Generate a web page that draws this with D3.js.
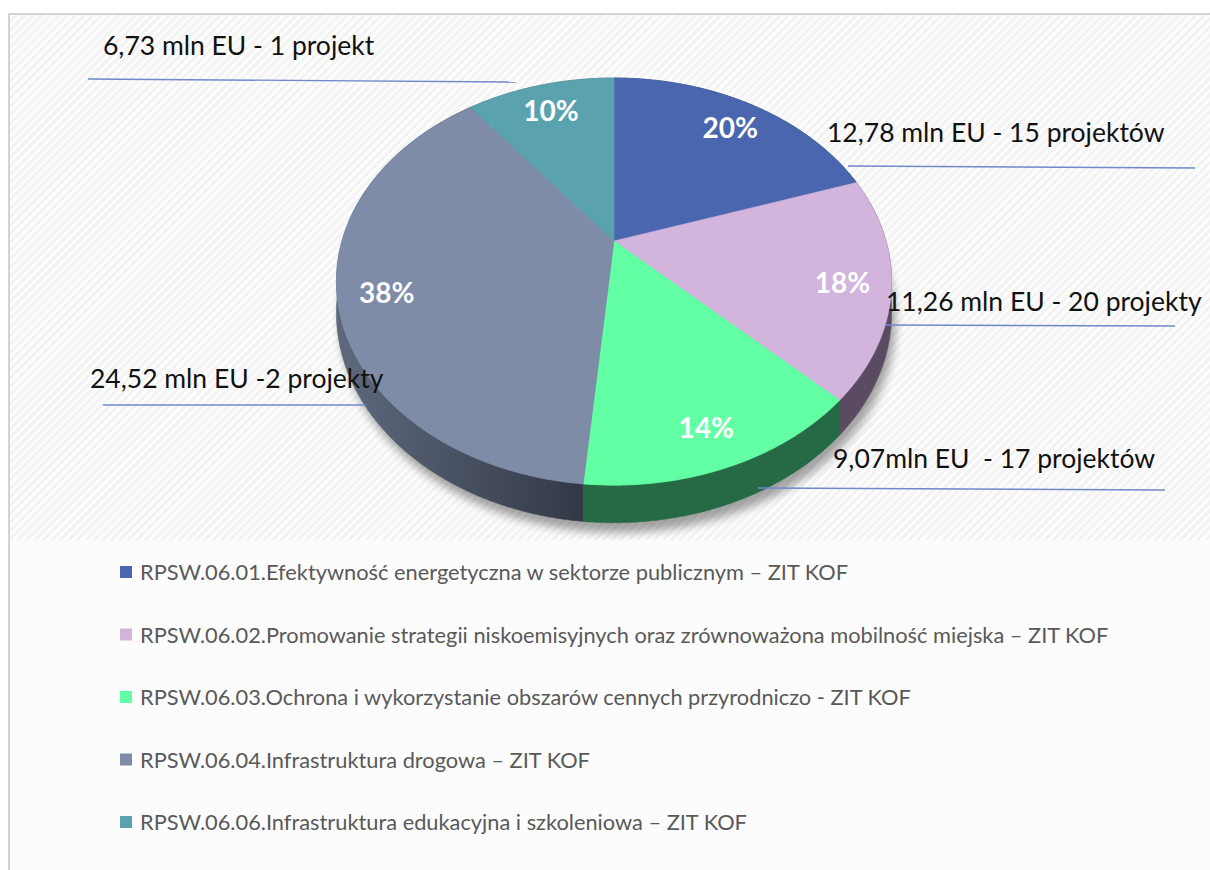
<!DOCTYPE html>
<html>
<head>
<meta charset="utf-8">
<script src="https://cdn.jsdelivr.net/npm/d3@7"></script>
<style>
  body { margin: 0; background: #fff; }
  svg { display: block; }
</style>
</head>
<body>
<div id="chart"></div>
<script>
// data
const categories = [
  "RPSW.06.01.Efektywność energetyczna w sektorze publicznym – ZIT KOF",
  "RPSW.06.02.Promowanie strategii niskoemisyjnych oraz zrównoważona mobilność miejska – ZIT KOF",
  "RPSW.06.03.Ochrona i wykorzystanie obszarów cennych przyrodniczo - ZIT KOF",
  "RPSW.06.04.Infrastruktura drogowa – ZIT KOF",
  "RPSW.06.06.Infrastruktura edukacyjna i szkoleniowa – ZIT KOF"
];
const values = [12.78, 11.26, 9.07, 24.52, 6.73];       // mln EU
const percentLabels = ["20%", "18%", "14%", "38%", "10%"];
const valueLabels = [
  "12,78 mln EU - 15 projektów",
  "11,26 mln EU - 20 projekty",
  "9,07mln EU  - 17 projektów",
  "24,52 mln EU -2 projekty",
  "6,73 mln EU - 1 projekt"
];

// styling
const topColors  = ["#4966ae", "#d2b4dd", "#62ffa5", "#7e8ca8", "#5aa3ae"];
const sideColors = ["#2c3d68", "#5b4b62", "#256945", "url(#graySide)", "#356168"];

// where the value labels + their underline sit
const labelLayout = [
  { x: 827, y: 142, lx1: 848, lx2: 1195, ly1: 166, ly2: 168 },
  { x: 886, y: 311, lx1: 886, lx2: 1175, ly1: 325, ly2: 326 },
  { x: 833, y: 468, lx1: 758, lx2: 1165, ly1: 488, ly2: 490 },
  { x: 90,  y: 388, lx1: 103, lx2: 366,  ly1: 405, ly2: 405 },
  { x: 103, y: 55,  lx1: 88,  lx2: 516,  ly1: 79,  ly2: 82 }
];

const width = 1210,
      height = 870;

const svg = d3.select("#chart").append("svg")
    .attr("width", width)
    .attr("height", height);

const defs = svg.append("defs");

// faint diagonal stripes behind the pie
const pat = defs.append("pattern")
    .attr("id", "stripes")
    .attr("width", 6).attr("height", 6)
    .attr("patternUnits", "userSpaceOnUse")
    .attr("patternTransform", "rotate(45)");
pat.append("rect").attr("width", 6).attr("height", 6).attr("fill", "#f3f3f3");
pat.append("rect").attr("width", 3).attr("height", 6).attr("fill", "#fdfdfd");

const gg = defs.append("linearGradient")
    .attr("id", "graySide")
    .attr("gradientUnits", "userSpaceOnUse")
    .attr("x1", 345).attr("y1", 0).attr("x2", 585).attr("y2", 0);
gg.append("stop").attr("offset", "0%").attr("stop-color", "#5d687d");
gg.append("stop").attr("offset", "100%").attr("stop-color", "#323845");

defs.append("filter")
    .attr("id", "blur")
    .attr("x", "-20%").attr("y", "-20%").attr("width", "140%").attr("height", "140%")
  .append("feGaussianBlur").attr("stdDeviation", 5);

// frame + backgrounds
svg.append("rect").attr("x", 9).attr("y", 15).attr("width", width).attr("height", height)
    .attr("fill", "#fcfcfc");
svg.append("rect").attr("x", 9).attr("y", 15).attr("width", width).attr("height", 525)
    .attr("fill", "url(#stripes)");
svg.append("path").attr("d", `M9,${height} V14 H${width}`)
    .attr("fill", "none").attr("stroke", "#d4d4d4").attr("stroke-width", 2);

// --- 3D pie ---
const cx = 614, cy = 241, A = 272, B = 195.5, K = 0.1995, D = 30;

// angle (clockwise from top), radius fraction, drop -> screen point (with perspective)
function proj(theta, r, drop) {
  const u = r * Math.sin(theta),
        v = -r * Math.cos(theta);
  const w = 1 - K * v;
  return [cx + A * u / w, cy + (B * v + (drop || 0)) / w];
}

function arcPoints(a0, a1, drop) {
  const n = Math.max(2, Math.ceil((a1 - a0) / 0.01));
  return d3.range(n + 1).map(i => proj(a0 + (a1 - a0) * i / n, 1, drop));
}

const pie = d3.pie().sort(null).value(d => d);
const arcs = pie(values).map((a, i) => Object.assign(a, { i }));

const line = d3.line();

// soft shadow under the pie
svg.append("path")
    .attr("d", line(arcPoints(0, 2 * Math.PI, D + 4)) + "Z")
    .attr("transform", "translate(4,5)")
    .attr("fill", "#000")
    .attr("opacity", 0.35)
    .attr("filter", "url(#blur)");

// side walls, back ones first
const sides = arcs.slice().sort((a, b) =>
    -Math.cos((a.startAngle + a.endAngle) / 2) - -Math.cos((b.startAngle + b.endAngle) / 2));

svg.append("g").selectAll("path")
  .data(sides)
  .enter().append("path")
    .attr("d", d => {
      const top = arcPoints(d.startAngle, d.endAngle, 0);
      const bot = arcPoints(d.startAngle, d.endAngle, D).reverse();
      return line(top.concat(bot)) + "Z";
    })
    .attr("fill", d => sideColors[d.i])
    .attr("stroke", d => sideColors[d.i])
    .attr("stroke-width", 0.6);

// top faces
svg.append("g").selectAll("path")
  .data(arcs)
  .enter().append("path")
    .attr("d", d => line([proj(0, 0)].concat(arcPoints(d.startAngle, d.endAngle, 0))) + "Z")
    .attr("fill", d => topColors[d.i])
    .attr("stroke", d => topColors[d.i])
    .attr("stroke-width", 0.6);

// percent labels
svg.append("g").selectAll("text")
  .data(arcs)
  .enter().append("text")
    .attr("x", d => proj((d.startAngle + d.endAngle) / 2, 0.83)[0])
    .attr("y", d => proj((d.startAngle + d.endAngle) / 2, 0.84)[1] + 14)
    .attr("text-anchor", "middle")
    .style("font-family", "Lato, 'Open Sans', sans-serif")
    .style("font-weight", "bold")
    .style("font-size", "28px")
    .attr("fill", "#fff")
    .text(d => percentLabels[d.i]);

// value labels with their underlines
const vl = svg.append("g");
vl.selectAll("line")
  .data(labelLayout)
  .enter().append("line")
    .attr("x1", d => d.lx1).attr("y1", d => d.ly1)
    .attr("x2", d => d.lx2).attr("y2", d => d.ly2)
    .attr("stroke", "#7089c8")
    .attr("stroke-width", 1.4);

vl.selectAll("text")
  .data(labelLayout)
  .enter().append("text")
    .attr("x", d => d.x)
    .attr("y", d => d.y)
    .style("font-family", "Lato, 'Open Sans', sans-serif")
    .style("font-size", "26.5px")
    .style("white-space", "pre")
    .attr("xml:space", "preserve")
    .attr("fill", "#111")
    .text((d, i) => valueLabels[i]);

// legend
const legend = svg.append("g").attr("transform", "translate(120,572)");
const rows = legend.selectAll("g")
  .data(categories)
  .enter().append("g")
    .attr("transform", (d, i) => `translate(0,${i * 62.5})`);

rows.append("rect")
    .attr("x", 0).attr("y", -6)
    .attr("width", 12).attr("height", 12)
    .attr("fill", (d, i) => topColors[i]);

rows.append("text")
    .attr("x", 20)
    .attr("y", 8)
    .style("font-family", "Lato, 'Open Sans', sans-serif")
    .style("font-size", "21.8px")
    .attr("fill", "#595959")
    .text(d => d);
</script>
</body>
</html>
